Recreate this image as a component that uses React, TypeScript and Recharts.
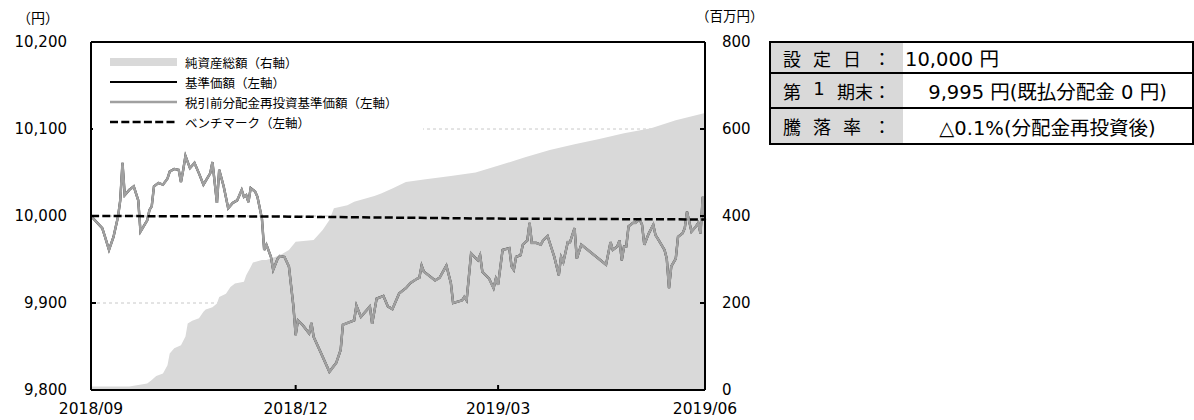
import React from 'react';
import { ComposedChart, Area, Line, XAxis, YAxis, CartesianGrid, ReferenceLine } from 'recharts';

const FONT = '"DejaVu Sans", "Noto Sans CJK JP", sans-serif';
const JP = '"Noto Sans CJK JP", "DejaVu Sans", sans-serif';

// x axis month labels (days are counted from 2018/09/01)
const tickLabels = ['2018/09', '2018/12', '2019/03', '2019/06'];

// 基準価額: observation day and value (円)
const navDays = [
  0, 5, 6, 8, 10, 12, 13, 14, 15, 17, 19, 21, 22, 25, 26, 27, 28, 30, 32, 34,
  35, 37, 39, 40, 41, 42, 44, 46, 48, 50, 53, 54, 56, 57, 59, 61, 63, 65, 67, 68,
  69, 70, 71, 73, 74, 76, 77, 78, 80, 81, 83, 84, 86, 88, 90, 91, 92, 94, 97, 98,
  99, 102, 106, 109, 111, 112, 114, 117, 118, 120, 124, 125, 127, 130, 132, 134, 137, 139, 140, 142,
  145, 146, 147, 148, 152, 153, 155, 158, 160, 161, 165, 166, 167, 169, 172, 173, 174, 177, 179, 180,
  181, 183, 186, 187, 188, 189, 191, 192, 194, 195, 196, 198, 200, 201, 203, 206, 208, 209, 210, 212,
  213, 215, 216, 218, 229, 231, 232, 234, 235, 236, 237, 238, 239, 241, 242, 244, 245, 246, 248, 250,
  251, 252, 255, 256, 257, 258, 260, 261, 263, 264, 265, 267, 269, 270, 271, 272, 273,
];
const navValues = [
  10000, 9986, 9978, 9961, 9976, 9999, 10018, 10061, 10024, 10030, 10034, 10018, 9982, 9995, 10007, 10011, 10034, 10038, 10036, 10043,
  10051, 10054, 10053, 10039, 10053, 10069, 10055, 10061, 10049, 10036, 10049, 10062, 10015, 10053, 10034, 10009, 10015, 10018, 10030, 10022,
  10024, 10016, 10032, 10028, 10022, 9997, 9961, 9967, 9953, 9938, 9951, 9954, 9953, 9942, 9896, 9863, 9880, 9875, 9865, 9877,
  9861, 9844, 9821, 9831, 9846, 9875, 9877, 9880, 9897, 9884, 9896, 9876, 9905, 9908, 9896, 9893, 9911, 9915, 9917, 9923,
  9928, 9929, 9943, 9936, 9928, 9926, 9929, 9943, 9923, 9900, 9903, 9907, 9903, 9957, 9949, 9955, 9936, 9928, 9917, 9928,
  9921, 9961, 9963, 9942, 9938, 9953, 9955, 9967, 9972, 9992, 9969, 9969, 9967, 9972, 9977, 9953, 9932, 9953, 9947, 9970,
  9970, 9986, 9951, 9967, 9944, 9970, 9961, 9965, 9972, 9949, 9965, 9965, 9988, 9992, 9992, 9996, 9990, 9967, 9980, 9990,
  9978, 9974, 9961, 9951, 9917, 9942, 9951, 9976, 9980, 9986, 10005, 9982, 9988, 9992, 9980, 10022, 9995,
];
// 税引前分配金再投資基準価額: no distribution paid, so it equals 基準価額
const reinvestedValues = navValues;

// ベンチマーク
const benchDays = [0, 80, 120, 180, 273];
const benchValues = [10000, 9999.5, 9998.5, 9997, 9996];

// 純資産総額 (百万円)
const assetDays = [
  0, 17, 25, 27, 29, 32, 34, 35, 37, 40, 42, 43, 45, 48, 50, 51, 54, 56, 57, 60,
  62, 64, 68, 69, 71, 72, 76, 78, 84, 88, 91, 99, 103, 106, 108, 114, 117, 126, 129, 134,
  140, 148, 160, 171, 182, 193, 204, 215, 226, 237, 249, 260, 273,
];
const assetValues = [
  8, 8, 15, 23, 32, 38, 57, 84, 96, 103, 123, 153, 159, 165, 180, 185, 190, 199, 214, 221,
  237, 245, 249, 264, 283, 293, 299, 299, 310, 322, 341, 345, 368, 391, 418, 425, 433, 446, 452, 463,
  478, 484, 492, 500, 517, 535, 552, 565, 577, 590, 602, 620, 637,
];

const legendItems = [
  { label: '純資産総額（右軸）', kind: 'area' },
  { label: '基準価額（左軸）', kind: 'nav' },
  { label: '税引前分配金再投資基準価額（左軸）', kind: 'reinv' },
  { label: 'ベンチマーク（左軸）', kind: 'bench' },
];

const tableRows = [
  { head: ['設', '定', '日', '：'], value: '10,000 円', align: 'left' },
  { head: ['第', '1', '期末：'], value: '9,995 円(既払分配金 0 円)', align: 'center' },
  { head: ['騰', '落', '率', '：'], value: '△0.1%(分配金再投資後)', align: 'center' },
];

const START = Date.UTC(2018, 8, 1);
const toDay = (label: string) => {
  const [y, m] = label.split('/').map(Number);
  return Math.round((Date.UTC(y, m - 1, 1) - START) / 86400000);
};
const tickDays = tickLabels.map(toDay);

const buildData = () => {
  const rows = new Map<number, any>();
  const put = (days: number[], values: number[], key: string) =>
    days.forEach((d, i) => {
      const r = rows.get(d) ?? { day: d };
      r[key] = values[i];
      rows.set(d, r);
    });
  put(assetDays, assetValues, 'assets');
  put(navDays, navValues, 'nav');
  put(navDays, reinvestedValues, 'reinvested');
  put(benchDays, benchValues, 'bench');
  return [...rows.values()].sort((a, b) => a.day - b.day);
};

const data = buildData();

const Swatch = ({ kind }: { kind: string }) => (
  <svg width={67} height={20} style={{ display: 'block' }}>
    {kind === 'area' && <rect x={0} y={6} width={67} height={8} fill="#d9d9d9" />}
    {kind === 'nav' && <line x1={0} x2={67} y1={10} y2={10} stroke="#000" strokeWidth={2} />}
    {kind === 'reinv' && <line x1={0} x2={67} y1={10} y2={10} stroke="#a0a0a0" strokeWidth={2.5} />}
    {kind === 'bench' && (
      <line x1={0} x2={67} y1={10} y2={10} stroke="#000" strokeWidth={2.5} strokeDasharray="8 3.3" />
    )}
  </svg>
);

export default function App() {
  const axisLine = { stroke: '#000', strokeWidth: 2 };
  const tickStyle = { fill: '#000', fontSize: 15, fontFamily: FONT };
  return (
    <div style={{ position: 'absolute', left: 0, top: 0, width: 1194, height: 420, background: '#fff', fontFamily: FONT }}>
      <ComposedChart width={780} height={420} data={data} margin={{ top: 42, right: 0, bottom: 0, left: 0 }}>
        <CartesianGrid yAxisId="left" vertical={false} stroke="#c8c8c8" strokeDasharray="3 3" />
        <XAxis
          dataKey="day"
          type="number"
          domain={[0, 273]}
          ticks={tickDays}
          interval={0}
          tickFormatter={(d: number) => tickLabels[tickDays.indexOf(d)] ?? ''}
          height={30}
          axisLine={axisLine}
          tickLine={{ stroke: '#000', strokeWidth: 2 }}
          tickSize={-5}
          tickMargin={18}
          tick={{ ...tickStyle, fontSize: 15.5 }}
        />
        <YAxis
          yAxisId="left"
          domain={[9800, 10200]}
          ticks={[9800, 9900, 10000, 10100, 10200]}
          interval={0}
          tickFormatter={(v: number) => v.toLocaleString('en-US')}
          width={91}
          axisLine={axisLine}
          tickLine={{ stroke: '#000', strokeWidth: 2 }}
          tickSize={-5}
          tickMargin={29}
          tick={tickStyle}
        />
        <YAxis
          yAxisId="right"
          orientation="right"
          domain={[0, 800]}
          ticks={[0, 200, 400, 600, 800]}
          interval={0}
          width={75}
          axisLine={axisLine}
          tickLine={{ stroke: '#000', strokeWidth: 2 }}
          tickSize={-5}
          tickMargin={22}
          tick={tickStyle}
        />
        <Area
          yAxisId="right"
          type="linear"
          dataKey="assets"
          fill="#d9d9d9"
          fillOpacity={1}
          stroke="none"
          connectNulls
          isAnimationActive={false}
        />
        <Line yAxisId="left" type="linear" dataKey="nav" stroke="#000" strokeWidth={2.25} dot={false} activeDot={false} connectNulls isAnimationActive={false} />
        <Line yAxisId="left" type="linear" dataKey="reinvested" stroke="#a0a0a0" strokeWidth={2.5} dot={false} activeDot={false} connectNulls isAnimationActive={false} />
        <Line yAxisId="left" type="linear" dataKey="bench" stroke="#000" strokeWidth={2.5} strokeDasharray="8 3.3" dot={false} activeDot={false} connectNulls isAnimationActive={false} />
        <ReferenceLine yAxisId="left" y={10200} stroke="#000" strokeWidth={2} />
      </ComposedChart>

      <div style={{ position: 'absolute', left: 17, top: 8, fontSize: 14, fontFamily: JP, lineHeight: '18px' }}>（円）</div>
      <div style={{ position: 'absolute', left: 696, top: 6, fontSize: 13.5, fontFamily: JP, lineHeight: '18px' }}>（百万円）</div>

      <div
        style={{
          position: 'absolute',
          left: 93,
          top: 48,
          width: 330,
          height: 86,
          background: '#fff',
          paddingTop: 4,
          paddingLeft: 17,
          boxSizing: 'border-box',
        }}
      >
        {legendItems.map((it) => (
          <div key={it.label} style={{ display: 'flex', alignItems: 'center', height: 20 }}>
            <Swatch kind={it.kind} />
            <span style={{ marginLeft: 8, fontSize: 12.5, fontFamily: JP, color: '#000', whiteSpace: 'nowrap' }}>{it.label}</span>
          </div>
        ))}
      </div>

      <div
        style={{
          position: 'absolute',
          left: 769,
          top: 41,
          width: 425,
          height: 104,
          border: '2px solid #000',
          boxSizing: 'border-box',
          fontSize: 18,
          color: '#000',
        }}
      >
        {tableRows.map((row, i) => (
          <div
            key={i}
            style={{
              display: 'flex',
              height: [29, 33, 34][i],
              borderBottom: i < tableRows.length - 1 ? '2px solid #000' : 'none',
            }}
          >
            <div style={{ width: 132, background: '#d9d9d9', display: 'flex', alignItems: 'center' }}>
              <div style={{ marginLeft: 12, width: 108, display: 'flex', justifyContent: 'space-between', fontFamily: FONT }}>
                {row.head.map((h, j) => (
                  <span key={j}>{h}</span>
                ))}
              </div>
            </div>
            <div
              style={{
                flex: 1,
                display: 'flex',
                alignItems: 'center',
                justifyContent: row.align === 'left' ? 'flex-start' : 'center',
                paddingLeft: row.align === 'left' ? 2 : 0,
                whiteSpace: 'nowrap',
                fontFamily: FONT,
                fontSize: 19.5,
              }}
            >
              {row.value}
            </div>
          </div>
        ))}
      </div>
    </div>
  );
}
